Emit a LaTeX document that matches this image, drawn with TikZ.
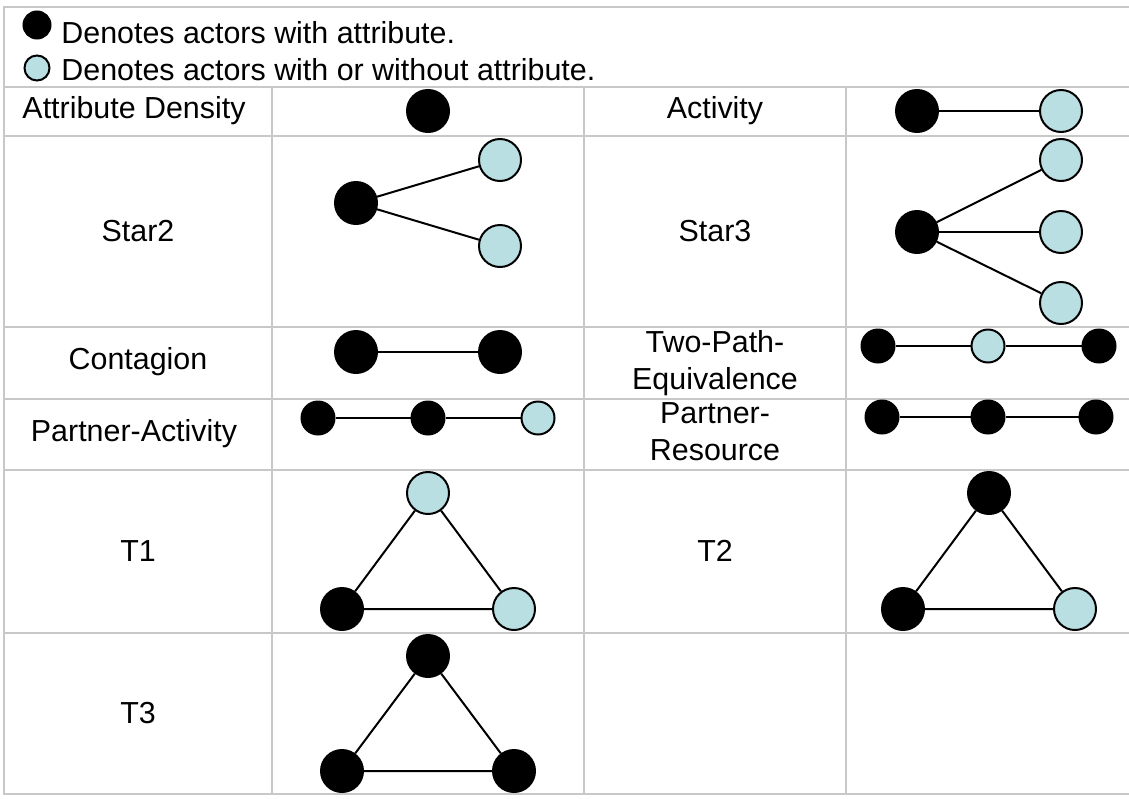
\documentclass[tikz,border=0pt]{standalone}
\usepackage{fontspec}
\setmainfont{Liberation Sans}
\usepackage{tikz}
\usetikzlibrary{positioning}
\definecolor{bleuclair}{RGB}{185,223,226}
\definecolor{grille}{RGB}{200,200,200}
\tikzstyle{noeud-attr}=[draw,fill=black,circle,inner sep=0pt,line width=1pt,minimum size=21pt]
\tikzstyle{noeud-libre}=[draw,fill=bleuclair,circle,inner sep=0pt,line width=1pt,minimum size=21pt]
\tikzstyle{petit}=[minimum size=16.5pt]
\tikzstyle{arete}=[line width=1pt]
\tikzstyle{trait-grille}=[draw=grille,line width=1.4pt]
\tikzstyle{etiquette}=[font=\fontsize{15.2}{18.5}\selectfont,align=center,inner sep=0pt]

\begin{document}
\begin{tikzpicture}[x=0.5pt,y=-0.5pt]
\useasboundingbox (0,0) rectangle (1129,798);
\fill[white] (0,0) rectangle (1129,798);

% grille du tableau
\draw[trait-grille] (1129,7) -- (4,7) -- (4,794) -- (1129,794);
\draw[trait-grille] (4,87) -- (1129,87);
\draw[trait-grille] (4,136) -- (1129,136);
\draw[trait-grille] (4,327) -- (1129,327);
\draw[trait-grille] (4,399) -- (1129,399);
\draw[trait-grille] (4,470) -- (1129,470);
\draw[trait-grille] (4,633) -- (1129,633);
\draw[trait-grille] (272,87) -- (272,794);
\draw[trait-grille] (584,87) -- (584,794);
\draw[trait-grille] (846,87) -- (846,794);

% legende
\node[noeud-attr,minimum size=13.5pt] (leg0) at (37,25) {};
\node[noeud-libre,minimum size=12.5pt] (leg1) at (37,68) {};
\node[etiquette,anchor=base west] (legtxt0) at (61,43) {Denotes actors with attribute.};
\node[etiquette,anchor=base west] (legtxt1) at (61,80) {Denotes actors with or without attribute.};

% colonne 1
\node[etiquette] (lab-dens) at (134,111) {Attribute Density};
\node[etiquette] (lab-star2) at (138,231) {Star2};
\node[etiquette] (lab-cont) at (138,362) {Contagion};
\node[etiquette] (lab-pact) at (134,434) {Partner-Activity};
\node[etiquette] (lab-t1) at (138,551) {T1};
\node[etiquette] (lab-t3) at (138,713) {T3};

% colonne 3
\node[etiquette] (lab-act) at (715,111) {Activity};
\node[etiquette] (lab-star3) at (715,231) {Star3};
\node[etiquette] (lab-tpe) at (715,363) {Two-Path-\\Equivalence};
\node[etiquette] (lab-pres) at (715,432) {Partner-\\Resource};
\node[etiquette] (lab-t2) at (715,551) {T2};

% Attribute Density
\node[noeud-attr] (dens0) at (428,111) {};

% Activity
\node[noeud-attr] (act0) at (917,111) {};
\node[noeud-libre] (act1) at (1061,111) {};
\draw[arete] (act0) -- (act1);

% Star2
\node[noeud-attr] (st2a) at (356,203) {};
\node[noeud-libre] (st2b) at (500,160) {};
\node[noeud-libre] (st2c) at (500,246) {};
\draw[arete] (st2a) -- (st2b);
\draw[arete] (st2a) -- (st2c);

% Star3
\node[noeud-attr] (st3a) at (917,232) {};
\node[noeud-libre] (st3b) at (1061,160) {};
\node[noeud-libre] (st3c) at (1061,232) {};
\node[noeud-libre] (st3d) at (1061,303) {};
\draw[arete] (st3a) -- (st3b);
\draw[arete] (st3a) -- (st3c);
\draw[arete] (st3a) -- (st3d);

% Contagion
\node[noeud-attr] (cont0) at (356,352) {};
\node[noeud-attr] (cont1) at (500,352) {};
\draw[arete] (cont0) -- (cont1);

% Two-Path-Equivalence
\node[noeud-attr,petit] (tpe0) at (878,346) {};
\node[noeud-libre,petit] (tpe1) at (988,346) {};
\node[noeud-attr,petit] (tpe2) at (1099,346) {};
\draw[arete] (tpe0) -- (tpe1);
\draw[arete] (tpe1) -- (tpe2);

% Partner-Activity
\node[noeud-attr,petit] (pact0) at (318,418) {};
\node[noeud-attr,petit] (pact1) at (428,418) {};
\node[noeud-libre,petit] (pact2) at (538,418) {};
\draw[arete] (pact0) -- (pact1);
\draw[arete] (pact1) -- (pact2);

% Partner-Resource
\node[noeud-attr,petit] (pres0) at (882,417) {};
\node[noeud-attr,petit] (pres1) at (988,417) {};
\node[noeud-attr,petit] (pres2) at (1096,417) {};
\draw[arete] (pres0) -- (pres1);
\draw[arete] (pres1) -- (pres2);

% T1
\node[noeud-libre] (t1a) at (428,493) {};
\node[noeud-attr] (t1b) at (342,609) {};
\node[noeud-libre] (t1c) at (514,609) {};
\draw[arete] (t1a) -- (t1b) -- (t1c) -- (t1a);

% T2
\node[noeud-attr] (t2a) at (989,493) {};
\node[noeud-attr] (t2b) at (903,609) {};
\node[noeud-libre] (t2c) at (1075,609) {};
\draw[arete] (t2a) -- (t2b) -- (t2c) -- (t2a);

% T3
\node[noeud-attr] (t3a) at (428,656) {};
\node[noeud-attr] (t3b) at (342,771) {};
\node[noeud-attr] (t3c) at (514,771) {};
\draw[arete] (t3a) -- (t3b) -- (t3c) -- (t3a);
\end{tikzpicture}
\end{document}
